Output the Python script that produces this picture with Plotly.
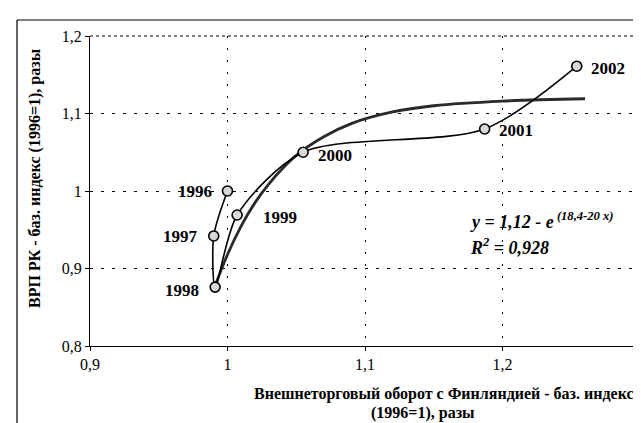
import plotly.graph_objects as go

years = ["1996", "1997", "1998", "1999", "2000", "2001", "2002"]
trade_idx = [1.000, 0.990, 0.991, 1.007, 1.055, 1.187, 1.254]
grp_idx = [1.000, 0.942, 0.876, 0.969, 1.050, 1.080, 1.161]

trend_x = [0.99, 1.00, 1.01, 1.02, 1.03, 1.04, 1.05, 1.07, 1.09, 1.12, 1.15, 1.20, 1.26]
trend_y = [0.873, 0.918, 0.955, 0.985, 1.009, 1.029, 1.046, 1.070, 1.087, 1.102, 1.110, 1.116, 1.119]

x_ticks = [0.9, 1.0, 1.1, 1.2, 1.3]
x_tick_labels = ["0,9", "1", "1,1", "1,2", "1,3"]
y_ticks = [0.8, 0.9, 1.0, 1.1, 1.2]
y_tick_labels = ["0,8", "0,9", "1", "1,1", "1,2"]

# label offsets (pixels) relative to point: (dx, dy, anchor)
label_off = {"1996": (-14, 0, "right"), "1997": (-14, 1, "right"), "1998": (-14, 3, "right"),
             "1999": (24, 2, "left"), "2000": (13, 3, "left"), "2001": (12, 1, "left"),
             "2002": (12, 2, "left")}

SERIF = "Liberation Serif, Times New Roman, Times, serif"

fig = go.Figure()
fig.add_trace(go.Scatter(
    x=trend_x, y=trend_y, mode="lines",
    line=dict(color="#2a2a2a", width=2.8, shape="spline"),
    hoverinfo="skip", showlegend=False))
fig.add_trace(go.Scatter(
    x=trade_idx, y=grp_idx, mode="lines+markers",
    line=dict(color="black", width=1.6, shape="spline", smoothing=0.8),
    marker=dict(symbol="circle", size=10, color="#d8d8d8",
                line=dict(color="black", width=1.6)),
    showlegend=False))

for yr, xv, yv in zip(years, trade_idx, grp_idx):
    dx, dy, anchor = label_off[yr]
    fig.add_annotation(x=xv, y=yv, text="<b>%s</b>" % yr, showarrow=False,
                       xshift=dx, yshift=-dy, xanchor=anchor, yanchor="middle",
                       font=dict(family=SERIF, size=17, color="black"))

# equation
fig.add_annotation(x=(460 - 82) / 550, y=(338 - 212) / 310, xref="paper", yref="paper",
                   text="<b><i>y = 1,12 - e</i></b><sup><b><i> (18,4-20 x)</i></b></sup>",
                   showarrow=False, xanchor="left", yanchor="middle",
                   font=dict(family=SERIF, size=18, color="black"))
fig.add_annotation(x=(460 - 82) / 550, y=(338 - 238) / 310, xref="paper", yref="paper",
                   text="<b><i>R</i></b><sup><b><i>2</i></b></sup><b><i> = 0,928</i></b>",
                   showarrow=False, xanchor="left", yanchor="middle",
                   font=dict(family=SERIF, size=18, color="black"))

# axis titles
fig.add_annotation(x=(436 - 82) / 550, y=(338 - 386) / 310, xref="paper", yref="paper",
                   text="<b>Внешнеторговый оборот с Финляндией - баз. индекс</b>",
                   showarrow=False, xanchor="center", yanchor="middle",
                   font=dict(family=SERIF, size=16, color="black"))
fig.add_annotation(x=(415 - 82) / 550, y=(338 - 405) / 310, xref="paper", yref="paper",
                   text="<b>(1996=1), разы</b>",
                   showarrow=False, xanchor="center", yanchor="middle",
                   font=dict(family=SERIF, size=16, color="black"))
fig.add_annotation(x=(27 - 82) / 550, y=(338 - 170) / 310, xref="paper", yref="paper",
                   text="<b>ВРП РК - баз. индекс (1996=1), разы</b>", textangle=-90,
                   showarrow=False, xanchor="center", yanchor="middle",
                   font=dict(family=SERIF, size=16, color="black"))

# plot border (top/right dotted) and outer frame (left/top)
fig.add_shape(type="line", xref="paper", yref="paper", x0=0, x1=1, y0=1, y1=1,
              line=dict(color="black", width=1, dash="dot"))
fig.add_shape(type="line", xref="paper", yref="paper", x0=1, x1=1, y0=0, y1=1,
              line=dict(color="black", width=1, dash="dot"))
fig.add_shape(type="line", xref="paper", yref="paper", x0=(9 - 82) / 550, x1=1.02,
              y0=(338 - 12) / 310, y1=(338 - 12) / 310, line=dict(color="black", width=1.2))
fig.add_shape(type="line", xref="paper", yref="paper", x0=(9 - 82) / 550, x1=(9 - 82) / 550,
              y0=(338 - 12) / 310, y1=(338 - 423) / 310, line=dict(color="black", width=1.2))

fig.update_xaxes(range=[0.9, 1.3], tickvals=x_ticks, ticktext=x_tick_labels,
                 showline=True, linecolor="black", linewidth=1.2,
                 ticks="outside", ticklen=4, tickcolor="black",
                 showgrid=True, gridcolor="black", gridwidth=1, griddash="2px,10px",
                 zeroline=False, tickfont=dict(family=SERIF, size=16, color="black"))
fig.update_yaxes(range=[0.8, 1.2], tickvals=y_ticks, ticktext=y_tick_labels,
                 showline=True, linecolor="black", linewidth=1.2,
                 ticks="outside", ticklen=4, tickcolor="black",
                 showgrid=True, gridcolor="black", gridwidth=1, griddash="3px,8px",
                 zeroline=False, tickfont=dict(family=SERIF, size=16, color="black"))

fig.update_layout(width=641, height=423, margin=dict(l=82, r=9, t=28, b=85),
                  plot_bgcolor="white", paper_bgcolor="white", showlegend=False,
                  font=dict(family=SERIF))

fig.write_html("out.html")
